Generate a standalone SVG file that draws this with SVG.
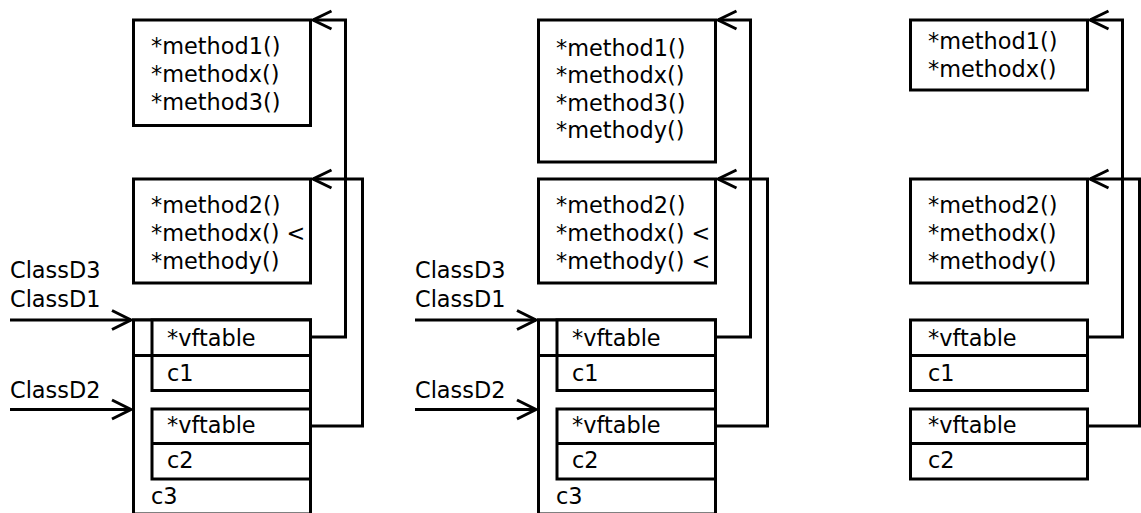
<svg xmlns="http://www.w3.org/2000/svg" width="1141" height="513" viewBox="0 0 1141 513">
  <style>
    .box { fill: #fff; stroke: #000; stroke-width: 3; }
    .ln { fill: none; stroke: #000; stroke-width: 3; }
    .head { fill: none; stroke: #000; stroke-width: 3; stroke-linejoin: miter; }
    text { font-family: "DejaVu Sans", "Liberation Sans", sans-serif; font-size: 22.4px; fill: #000; }
  </style>

  <!-- Layout 1: ClassD3 derived from ClassD1 and ClassD2 -->
  <g id="layout1">
    <g id="l1-vtable1">
      <rect class="box" x="133.5" y="20" width="177" height="105.5"/>
      <text x="151" y="53.5">*method1()</text>
      <text x="151" y="81.5">*methodx()</text>
      <text x="151" y="109.5">*method3()</text>
    </g>
    <g id="l1-vtable2">
      <rect class="box" x="133.5" y="179" width="177" height="104"/>
      <text x="151" y="212.5">*method2()</text>
      <text x="151" y="240.5">*methodx() &lt;</text>
      <text x="151" y="268.5">*methody()</text>
    </g>
    <g id="l1-object">
      <rect class="box" x="133.5" y="320" width="177" height="194"/>
      <rect class="box" x="133.5" y="320" width="177" height="35.5"/>
      <rect class="box" x="152" y="320" width="158.5" height="70.5"/>
      <line class="ln" x1="152" y1="355.5" x2="310.5" y2="355.5"/>
      <rect class="box" x="152" y="409" width="158.5" height="70"/>
      <line class="ln" x1="152" y1="443.5" x2="310.5" y2="443.5"/>
      <text x="167" y="346">*vftable</text>
      <text x="167" y="381">c1</text>
      <text x="167" y="433">*vftable</text>
      <text x="167" y="468">c2</text>
      <text x="151" y="504">c3</text>
    </g>
    <g id="l1-labels">
      <text x="10" y="278">ClassD3</text>
      <text x="10" y="307">ClassD1</text>
      <text x="10" y="398">ClassD2</text>
    </g>
  </g>

  <!-- Layout 2: ClassD3 also overriding methody -->
  <g id="layout2">
    <g id="l2-vtable1">
      <rect class="box" x="538.5" y="20" width="177" height="142"/>
      <text x="556" y="55.5">*method1()</text>
      <text x="556" y="83">*methodx()</text>
      <text x="556" y="110.5">*method3()</text>
      <text x="556" y="138">*methody()</text>
    </g>
    <g id="l2-vtable2">
      <rect class="box" x="538.5" y="179" width="177" height="104"/>
      <text x="556" y="212.5">*method2()</text>
      <text x="556" y="240.5">*methodx() &lt;</text>
      <text x="556" y="268.5">*methody() &lt;</text>
    </g>
    <g id="l2-object">
      <rect class="box" x="538.5" y="320" width="177" height="194"/>
      <rect class="box" x="538.5" y="320" width="177" height="35.5"/>
      <rect class="box" x="557" y="320" width="158.5" height="70.5"/>
      <line class="ln" x1="557" y1="355.5" x2="715.5" y2="355.5"/>
      <rect class="box" x="557" y="409" width="158.5" height="70"/>
      <line class="ln" x1="557" y1="443.5" x2="715.5" y2="443.5"/>
      <text x="572" y="346">*vftable</text>
      <text x="572" y="381">c1</text>
      <text x="572" y="433">*vftable</text>
      <text x="572" y="468">c2</text>
      <text x="556" y="504">c3</text>
    </g>
    <g id="l2-labels">
      <text x="415" y="278">ClassD3</text>
      <text x="415" y="307">ClassD1</text>
      <text x="415" y="398">ClassD2</text>
    </g>
  </g>

  <!-- Layout 3: separate ClassD1 / ClassD2 objects -->
  <g id="layout3">
    <g id="l3-vtable1">
      <rect class="box" x="910.5" y="20" width="177" height="70"/>
      <text x="928" y="49">*method1()</text>
      <text x="928" y="76.5">*methodx()</text>
    </g>
    <g id="l3-vtable2">
      <rect class="box" x="910.5" y="179" width="177" height="104"/>
      <text x="928" y="212.5">*method2()</text>
      <text x="928" y="240.5">*methodx()</text>
      <text x="928" y="268.5">*methody()</text>
    </g>
    <g id="l3-objD1">
      <rect class="box" x="910.5" y="320" width="177" height="70.5"/>
      <line class="ln" x1="910.5" y1="355.5" x2="1087.5" y2="355.5"/>
      <text x="928" y="346">*vftable</text>
      <text x="928" y="381">c1</text>
    </g>
    <g id="l3-objD2">
      <rect class="box" x="910.5" y="409" width="177" height="70"/>
      <line class="ln" x1="910.5" y1="443.5" x2="1087.5" y2="443.5"/>
      <text x="928" y="433">*vftable</text>
      <text x="928" y="468">c2</text>
    </g>
  </g>

  <!-- Pointers: vftable slots to tables, class labels to subobjects -->
  <g id="connectors">
    <!-- layout 1 -->
    <path class="ln" d="M310.5 337 H345.5 V20 H313"/>
    <path class="head" d="M331.5 11 L313 20 L331.5 29"/>
    <path class="ln" d="M310.5 426 H362.5 V179 H313"/>
    <path class="head" d="M331.5 170 L313 179 L331.5 188"/>
    <path class="ln" d="M10 320 H131"/>
    <path class="head" d="M112 310.5 L131 320 L112 329.5"/>
    <path class="ln" d="M10 409.5 H131"/>
    <path class="head" d="M112 400 L131 409.5 L112 419"/>

    <!-- layout 2 -->
    <path class="ln" d="M715.5 337 H750.5 V20 H718"/>
    <path class="head" d="M736.5 11 L718 20 L736.5 29"/>
    <path class="ln" d="M715.5 426 H767.5 V179 H718"/>
    <path class="head" d="M736.5 170 L718 179 L736.5 188"/>
    <path class="ln" d="M415 320 H536"/>
    <path class="head" d="M517 310.5 L536 320 L517 329.5"/>
    <path class="ln" d="M415 409.5 H536"/>
    <path class="head" d="M517 400 L536 409.5 L517 419"/>

    <!-- layout 3 -->
    <path class="ln" d="M1087.5 337 H1122.5 V20 H1090"/>
    <path class="head" d="M1108.5 11 L1090 20 L1108.5 29"/>
    <path class="ln" d="M1087.5 426 H1139.5 V179 H1090"/>
    <path class="head" d="M1108.5 170 L1090 179 L1108.5 188"/>
  </g>
</svg>
